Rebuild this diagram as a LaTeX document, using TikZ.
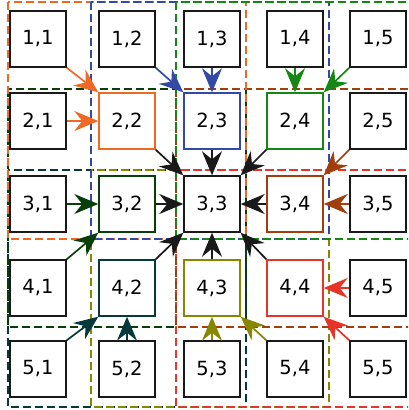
\documentclass[tikz,border=0pt]{standalone}
\usepackage{fontspec}
\setmainfont{DejaVu Sans}
\usetikzlibrary{arrows.meta}
\definecolor{cOr}{RGB}{238,106,36}
\definecolor{cBl}{RGB}{52,72,165}
\definecolor{cGr}{RGB}{20,135,20}
\definecolor{cDg}{RGB}{8,62,8}
\definecolor{cBr}{RGB}{160,62,14}
\definecolor{cTe}{RGB}{6,58,58}
\definecolor{cOl}{RGB}{135,135,0}
\definecolor{cRe}{RGB}{232,52,40}
\definecolor{cBk}{RGB}{25,25,25}
\begin{document}
\begin{tikzpicture}[x=1pt,y=-1pt,
  box/.style={draw=cBk, line width=1.4pt, minimum size=56pt, inner sep=0pt, font=\fontsize{19.5}{19.5}\selectfont},
  arr/.style={-{Stealth[length=24pt,width=20pt,inset=8pt]}, line width=1.7pt},
  grp/.style={dash pattern=on 8pt off 4pt, line width=1.4pt}]
\clip (0,0) rectangle (408,410);
% group rectangles
\draw[grp,cTe] (8,170) rectangle (246,407);
\draw[grp,cOl] (91,170) rectangle (329,407);
\draw[grp,cRe] (176,170) rectangle (414,407);
\draw[grp,cDg] (8,89) rectangle (246,327);
\draw[grp,cBr] (176,89) rectangle (414,327);
\draw[grp,cOr] (8,2) rectangle (246,239);
\draw[grp,cBl] (91,2) rectangle (329,239);
\draw[grp,cGr] (176,2) rectangle (414,239);
% nodes
\node[box] (n11) at (38,39) {1,1};
\node[box] (n12) at (127,39) {1,2};
\node[box] (n13) at (212,39) {1,3};
\node[box] (n14) at (295,39) {1,4};
\node[box] (n15) at (378,39) {1,5};
\node[box] (n21) at (38,121) {2,1};
\node[box,draw=cOr] (n22) at (127,121) {2,2};
\node[box,draw=cBl] (n23) at (212,121) {2,3};
\node[box,draw=cGr] (n24) at (295,121) {2,4};
\node[box] (n25) at (378,121) {2,5};
\node[box] (n31) at (38,204) {3,1};
\node[box,draw=cDg] (n32) at (127,204) {3,2};
\node[box] (n33) at (212,204) {3,3};
\node[box,draw=cBr] (n34) at (295,204) {3,4};
\node[box] (n35) at (378,204) {3,5};
\node[box] (n41) at (38,288) {4,1};
\node[box,draw=cTe] (n42) at (127,288) {4,2};
\node[box,draw=cOl] (n43) at (212,288) {4,3};
\node[box,draw=cRe] (n44) at (295,288) {4,4};
\node[box] (n45) at (378,288) {4,5};
\node[box] (n51) at (38,369) {5,1};
\node[box] (n52) at (127,369) {5,2};
\node[box] (n53) at (212,369) {5,3};
\node[box] (n54) at (295,369) {5,4};
\node[box] (n55) at (378,369) {5,5};
% arrows
\draw[arr,cOr] (n11.south east) -- (n22.north west);
\draw[arr,cOr] (n21.east) -- (n22.west);
\draw[arr,cBl] (n12.south east) -- (n23.north west);
\draw[arr,cBl] (n13.south) -- (n23.north);
\draw[arr,cGr] (n14.south) -- (n24.north);
\draw[arr,cGr] (n15.south west) -- (n24.north east);
\draw[arr,cDg] (n31.east) -- (n32.west);
\draw[arr,cDg] (n41.north east) -- (n32.south west);
\draw[arr,cBr] (n25.south west) -- (n34.north east);
\draw[arr,cBr] (n35.west) -- (n34.east);
\draw[arr,cTe] (n51.north east) -- (n42.south west);
\draw[arr,cTe] (n52.north) -- (n42.south);
\draw[arr,cOl] (n53.north) -- (n43.south);
\draw[arr,cOl] (n54.north west) -- (n43.south east);
\draw[arr,cRe] (n45.west) -- (n44.east);
\draw[arr,cRe] (n55.north west) -- (n44.south east);
\draw[arr,cBk] (n22.south east) -- (n33.north west);
\draw[arr,cBk] (n23.south) -- (n33.north);
\draw[arr,cBk] (n24.south west) -- (n33.north east);
\draw[arr,cBk] (n32.east) -- (n33.west);
\draw[arr,cBk] (n34.west) -- (n33.east);
\draw[arr,cBk] (n42.north east) -- (n33.south west);
\draw[arr,cBk] (n43.north) -- (n33.south);
\draw[arr,cBk] (n44.north west) -- (n33.south east);
\end{tikzpicture}
\end{document}
